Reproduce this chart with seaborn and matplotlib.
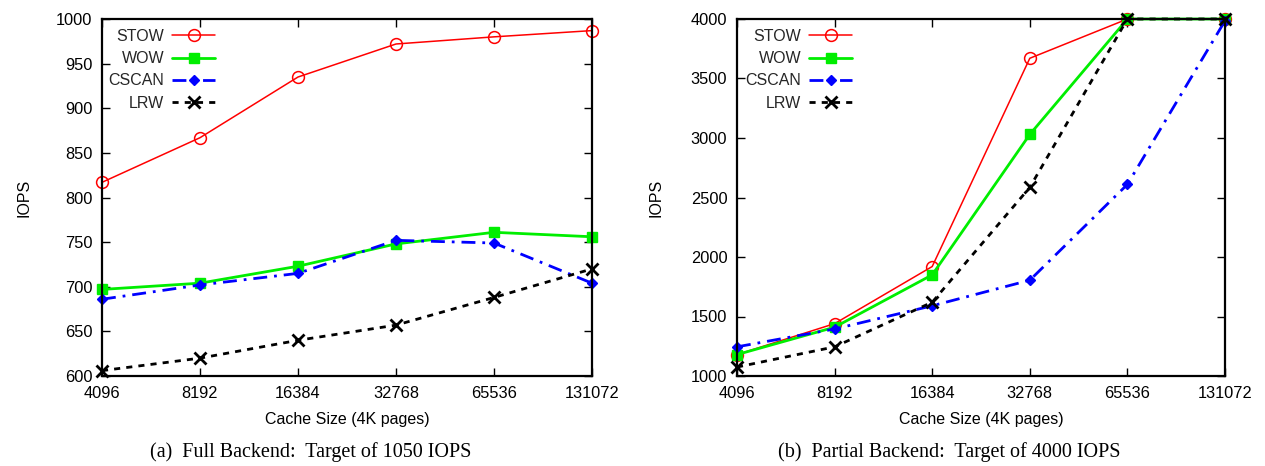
import matplotlib
matplotlib.use("Agg")
import matplotlib.pyplot as plt
import seaborn as sns
import pandas as pd
import numpy as np

sns.set_theme(style="white")
plt.rcParams['font.family'] = ['Liberation Sans', 'DejaVu Sans']

cache_sizes = [4096, 8192, 16384, 32768, 65536, 131072]
tick_labels = ["4096", "8192", "16384", "32768", "65536", "131072"]
series = ["STOW", "WOW", "CSCAN", "LRW"]

full_stow = [817, 867, 935, 972, 980, 987]
full_wow = [697, 704, 723, 748, 761, 756]
full_cscan = [686, 702, 715, 752, 749, 704]
full_lrw = [606, 620, 640, 657, 688, 720]

part_stow = [1180, 1440, 1920, 3670, 4000, 4000]
part_wow = [1180, 1410, 1850, 3030, 4000, 4000]
part_cscan = [1245, 1395, 1590, 1805, 2610, 3985]
part_lrw = [1075, 1245, 1620, 2585, 4000, 4000]

captions = ["(a)  Full Backend:  Target of 1050 IOPS",
            "(b)  Partial Backend:  Target of 4000 IOPS"]
xlabel = "Cache Size (4K pages)"
ylabel = "IOPS"

styles = {
    "STOW": dict(color="#ff0000", lw=1.1, marker="o", ms=8.5, mfc="none", mec="#ff0000", mew=1.1, ls="-"),
    "WOW": dict(color="#00ee00", lw=2.0, marker="s", ms=7.5, mfc="#00ee00", mec="#00ee00", mew=1, ls="-"),
    "CSCAN": dict(color="#0000ff", lw=2.0, marker="D", ms=5.0, mfc="#0000ff", mec="#0000ff", mew=1, ls=(0, (5, 2.5, 1, 2.5))),
    "LRW": dict(color="#000000", lw=2.0, marker="x", ms=8.5, mec="#000000", mew=2.0, ls=(0, (2.2, 2.2))),
}


def make_df(vals):
    rows = []
    for name, v in zip(series, vals):
        for x, y in zip(cache_sizes, v):
            rows.append({"size": x, "iops": y, "series": name})
    return pd.DataFrame(rows)


fig = plt.figure(figsize=(12.65, 4.66), dpi=100)
ax1 = fig.add_axes([102 / 1265, 90 / 466, 490 / 1265, 357 / 466])
ax2 = fig.add_axes([737 / 1265, 90 / 466, 488 / 1265, 357 / 466])

panels = [
    (ax1, make_df([full_stow, full_wow, full_cscan, full_lrw]), (600, 1000), np.arange(600, 1001, 50), 31, 102, 490, 0.0, 311),
    (ax2, make_df([part_stow, part_wow, part_cscan, part_lrw]), (1000, 4000), np.arange(1000, 4001, 500), 663, 737, 488, 0.004, 949),
]

for i, (ax, df, ylim, yticks, ylab_x, x0, w, legx, capx) in enumerate(panels):
    for name in series:
        st = styles[name]
        sub = df[df["series"] == name]
        sns.lineplot(data=sub, x="size", y="iops", ax=ax, color=st["color"],
                     linewidth=st["lw"], linestyle=st["ls"], marker=st["marker"],
                     markersize=st["ms"], markerfacecolor=st.get("mfc", st["color"]),
                     markeredgecolor=st["mec"], markeredgewidth=st["mew"],
                     label=name, clip_on=False, zorder=3)
    ax.set_xscale("log", base=2)
    ax.set_xlim(cache_sizes[0], cache_sizes[-1])
    ax.set_xticks(cache_sizes)
    ax.set_xticklabels(tick_labels)
    ax.xaxis.set_minor_locator(matplotlib.ticker.NullLocator())
    ax.set_ylim(*ylim)
    ax.set_yticks(yticks)
    ax.set_yticklabels([str(t) for t in yticks])
    ax.tick_params(axis="both", which="major", direction="in", length=6, width=1,
                   top=True, right=True, bottom=True, left=True, labelsize=11.8,
                   colors="black", pad=7)
    ax.tick_params(axis="x", pad=7)
    for sp in ax.spines.values():
        sp.set_color("black")
        sp.set_linewidth(1.6)
        sp.set_zorder(4)
    ax.set_xlabel(xlabel, fontsize=11.5, labelpad=8, color="black")
    ax.set_ylabel(ylabel, fontsize=11.5, color="black")
    ax.yaxis.set_label_coords((ylab_x - x0) / w, 0.5)
    leg = ax.legend(loc="upper left", markerfirst=False, frameon=False, fontsize=11.5,
                    handlelength=2.7, handletextpad=0.5, labelspacing=0.45,
                    borderaxespad=0.0, bbox_to_anchor=(legx, 0.99))
    ax.grid(False)
    fig.text(capx / 1265, (466 - 452) / 466, captions[i], ha="center", va="center",
             fontsize=14.5, family="Liberation Serif", color="black")

fig.savefig("out.png", dpi=100)
